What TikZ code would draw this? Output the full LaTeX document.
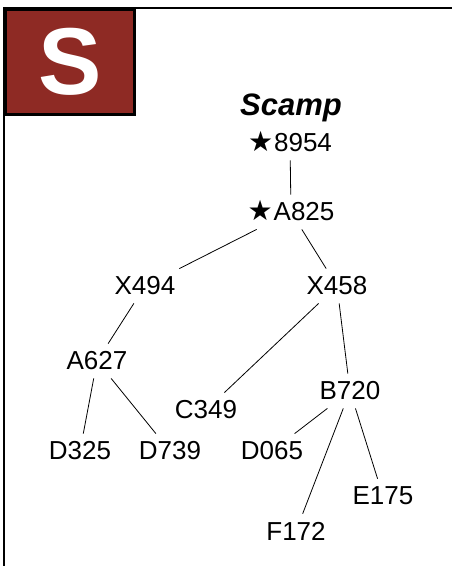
\documentclass[tikz,border=0pt]{standalone}
\usepackage{fontspec}
\setmainfont{Liberation Sans}
\newfontfamily\symfont{DejaVu Sans}
\usetikzlibrary{positioning}
\definecolor{tile_red}{HTML}{8E2A24}
\newcommand{\starmark}{\smash{\symfont\fontsize{28}{28}\selectfont ★}\kern1pt}

\begin{document}
\begin{tikzpicture}[
                x=1pt, y=-1pt,
                taxon/.style={font=\fontsize{26}{30}\selectfont, inner sep=8pt},
                link/.style={line width=0.8pt}
            ]
                \useasboundingbox (0,0) rectangle (452,566);

                % Frame and letter tile
                \draw [line width=2.6pt] (4,566) -- (4,8) -- (452,8);
                \node (tile) [draw, line width=2.5pt, fill=tile_red, minimum width=129pt, minimum height=105pt, inner sep=0pt, anchor=north west] at (4,8) {};
                \node (letter) [text=white, font=\fontsize{95}{95}\selectfont\bfseries] at (tile.center) {S};

                % Nodes
                \node (title) [font=\fontsize{31}{34}\selectfont\bfseries\itshape] at (291,108) {Scamp};
                \node (n8954) [taxon] at (290,143) {\starmark 8954};
                \node (a825) [taxon] at (291,212) {\starmark A825};
                \node (x494) [taxon] at (145,286) {X494};
                \node (x458) [taxon] at (337,286) {X458};
                \node (a627) [taxon] at (97,361) {A627};
                \node (c349) [taxon] at (206,410) {C349};
                \node (b720) [taxon] at (350,391) {B720};
                \node (d325) [taxon] at (80,451) {D325};
                \node (d739) [taxon] at (170,451) {D739};
                \node (d065) [taxon] at (272,451) {D065};
                \node (e175) [taxon] at (383,496) {E175};
                \node (f172) [taxon] at (296,531) {F172};

                % Links
                \draw [link] (n8954) -- (a825);
                \draw [link] (a825) -- (x494);
                \draw [link] (a825) -- (x458);
                \draw [link] (x494) -- (a627);
                \draw [link] (x458) -- (c349);
                \draw [link] (x458) -- (b720);
                \draw [link] (a627) -- (d325);
                \draw [link] (a627) -- (d739);
                \draw [link] (b720) -- (d065);
                \draw [link] (b720) -- (f172);
                \draw [link] (b720) -- (e175);
            \end{tikzpicture}
\end{document}
